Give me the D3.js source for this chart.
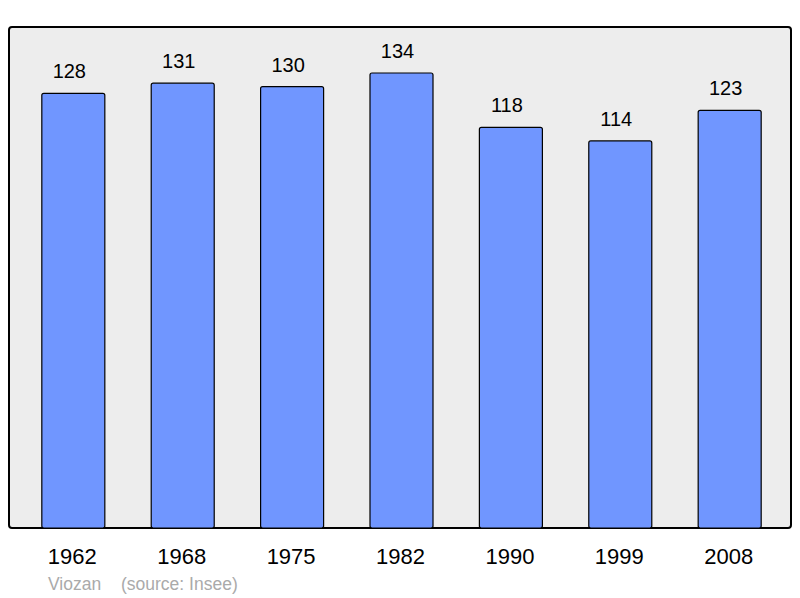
<!DOCTYPE html>
<html>
<head>
<meta charset="utf-8">
<script src="https://cdn.jsdelivr.net/npm/d3@7"></script>
<style>
  body { margin: 0; background: #fff; }
  svg { display: block; font-family: "Liberation Sans", Arial, sans-serif; }
</style>
</head>
<body>
<div id="chart"></div>
<script>
// Données
const years = ["1962", "1968", "1975", "1982", "1990", "1999", "2008"];
const population = [128, 131, 130, 134, 118, 114, 123];
const credits = ["Viozan", "(source: Insee)"];

const width = 800;
const height = 598;
const frame = { left: 9, top: 27, right: 791, bottom: 528 };

const svg = d3.select("#chart")
    .append("svg")
    .attr("width", width)
    .attr("height", height);

// cadre gris
svg.append("rect")
    .attr("x", frame.left)
    .attr("y", frame.top)
    .attr("width", frame.right - frame.left)
    .attr("height", frame.bottom - frame.top)
    .attr("rx", 3)
    .attr("fill", "#ededed")
    .attr("stroke", "#000")
    .attr("stroke-width", 2);

const data = years.map((y, i) => ({ year: y, value: population[i] }));

const escalaX = d3.scaleBand()
    .domain(years)
    .range([9, 794])
    .paddingInner(0.424)
    .paddingOuter(0.3);

const escalaY = d3.scaleLinear()
    .domain([0, 134])
    .range([frame.bottom, 73]);

const barras = svg.append("g");

barras.selectAll("rect")
    .data(data)
    .join("rect")
    .attr("x", d => escalaX(d.year))
    .attr("y", d => escalaY(d.value))
    .attr("width", escalaX.bandwidth())
    .attr("height", d => frame.bottom - escalaY(d.value))
    .attr("rx", 2)
    .attr("fill", "#7096ff")
    .attr("stroke", "#000")
    .attr("stroke-width", 1.2);

// valeurs au-dessus des barres
barras.selectAll("text")
    .data(data)
    .join("text")
    .attr("x", d => escalaX(d.year) + escalaX.bandwidth() / 2 - 4)
    .attr("y", d => escalaY(d.value) - 15)
    .attr("text-anchor", "middle")
    .attr("font-size", 20)
    .attr("fill", "#000")
    .text(d => d.value);

// années
const ejeX = d3.axisBottom(escalaX).tickSize(0).tickPadding(0);
const contenedorEjeX = svg.append("g")
    .attr("transform", `translate(0, ${frame.bottom})`)
    .call(ejeX);
contenedorEjeX.select(".domain").remove();
contenedorEjeX.selectAll("text")
    .attr("font-family", null)
    .attr("font-size", 22)
    .attr("fill", "#000")
    .attr("dy", null)
    .attr("x", -1)
    .attr("y", 36);

// source
svg.append("text")
    .attr("x", 48)
    .attr("y", 590)
    .attr("font-size", 17.5)
    .attr("fill", "#aaa")
    .text(credits[0]);

svg.append("text")
    .attr("x", 121)
    .attr("y", 590)
    .attr("font-size", 17.5)
    .attr("fill", "#aaa")
    .text(credits[1]);
</script>
</body>
</html>
